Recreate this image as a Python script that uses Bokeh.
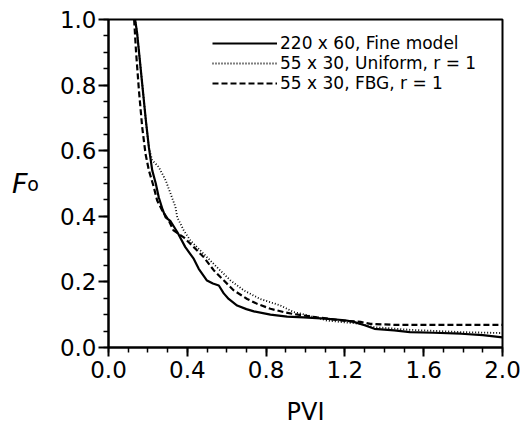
from bokeh.plotting import figure
from bokeh.models import Legend, LegendItem, FixedTicker, Range1d, LinearAxis
from bokeh.embed import file_html
from bokeh.resources import INLINE

# Fine model 220 x 60
fine_x = [0.135, 0.145, 0.16, 0.175, 0.19, 0.205, 0.222, 0.24, 0.255, 0.275, 0.29, 0.315, 0.349,
          0.39, 0.433, 0.458, 0.50, 0.53, 0.56, 0.585, 0.61, 0.653, 0.70, 0.738, 0.822, 0.907,
          0.99, 1.10, 1.20, 1.245, 1.30, 1.35, 1.45, 1.53, 1.65, 1.79, 1.90, 2.0]
fine_y = [1.0, 0.96, 0.87, 0.78, 0.69, 0.61, 0.54, 0.50, 0.458, 0.42, 0.397, 0.385, 0.352,
          0.306, 0.27, 0.24, 0.204, 0.195, 0.189, 0.165, 0.148, 0.128, 0.117, 0.11, 0.10, 0.094,
          0.092, 0.088, 0.083, 0.078, 0.068, 0.057, 0.052, 0.047, 0.045, 0.042, 0.038, 0.031]

# Coarse 55 x 30, uniform, r = 1
unif_x = [0.135, 0.145, 0.16, 0.175, 0.19, 0.205, 0.222, 0.24, 0.255, 0.29, 0.315, 0.34, 0.349,
          0.382, 0.416, 0.484, 0.55, 0.62, 0.687, 0.77, 0.873, 0.94, 1.0, 1.11, 1.28, 1.35,
          1.53, 1.79, 2.0]
unif_y = [1.0, 0.96, 0.87, 0.78, 0.69, 0.61, 0.57, 0.56, 0.55, 0.51, 0.469, 0.428, 0.397,
          0.357, 0.326, 0.285, 0.245, 0.204, 0.174, 0.148, 0.128, 0.108, 0.10, 0.082, 0.072, 0.062,
          0.054, 0.047, 0.044]

# Coarse 55 x 30, FBG, r = 1
fbg_x = [0.13, 0.14, 0.155, 0.171, 0.188, 0.205, 0.23, 0.247, 0.275, 0.306, 0.33, 0.382, 0.433,
         0.484, 0.535, 0.586, 0.636, 0.704, 0.755, 0.822, 0.89, 0.94, 1.06, 1.19, 1.28, 1.33,
         1.45, 2.0]
fbg_y = [1.0, 0.9, 0.78, 0.672, 0.59, 0.54, 0.489, 0.448, 0.415, 0.387, 0.357, 0.336, 0.306,
         0.275, 0.235, 0.204, 0.174, 0.148, 0.133, 0.118, 0.108, 0.102, 0.092, 0.082, 0.078, 0.072,
         0.069, 0.069]

legend_labels = ["220 x 60, Fine model", "55 x 30, Uniform, r = 1", "55 x 30, FBG, r = 1"]
x_ticks = [0.0, 0.4, 0.8, 1.2, 1.6, 2.0]
y_ticks = [0.0, 0.2, 0.4, 0.6, 0.8, 1.0]

FONT = "DejaVu Sans"

p = figure(width=523, height=424, output_backend="svg", toolbar_location=None,
           x_range=Range1d(0, 2.0), y_range=Range1d(0, 1.0),
           min_border_left=108, min_border_right=21, min_border_top=19, min_border_bottom=77)
p.frame_width = 394
p.frame_height = 328
p.grid.visible = False
p.outline_line_color = "black"
p.outline_line_width = 2
p.background_fill_color = "white"
p.border_fill_color = "white"

r1 = p.line(fine_x, fine_y, line_color="black", line_width=2.2)
r2 = p.line(unif_x, unif_y, line_color="black", line_width=1.8, line_dash="1 2")
r3 = p.line(fbg_x, fbg_y, line_color="black", line_width=2.2, line_dash="6 3")

# axes
p.xaxis.ticker = FixedTicker(ticks=x_ticks, minor_ticks=[i / 10 for i in range(0, 21)])
p.yaxis.ticker = FixedTicker(ticks=y_ticks, minor_ticks=[i / 20 for i in range(0, 21)])
p.xaxis.major_label_overrides = {t: f"{t:.1f}" for t in x_ticks}
p.yaxis.major_label_overrides = {t: f"{t:.1f}" for t in y_ticks}
for ax in (p.xaxis, p.yaxis):
    ax.axis_line_width = 2
    ax.axis_line_color = "black"
    ax.major_tick_line_width = 2
    ax.minor_tick_line_width = 1.5
    ax.major_tick_in = 0
    ax.minor_tick_in = 0
    ax.minor_tick_out = 5
    ax.major_label_text_font = FONT
    ax.major_label_text_font_size = "23px"
    ax.major_label_text_color = "black"
p.xaxis.major_tick_out = 9
p.yaxis.major_tick_out = 10
p.xaxis.major_label_standoff = 4
p.yaxis.major_label_standoff = 2

p.xaxis.axis_label = "PVI"
p.xaxis.axis_label_text_font = FONT
p.xaxis.axis_label_text_font_size = "24px"
p.xaxis.axis_label_text_font_style = "normal"
p.xaxis.axis_label_text_color = "black"
p.xaxis.axis_label_standoff = 17

# y label "F" + subscript "o", horizontal: "o" on the tick axis, "F" on an outer bare axis
p.yaxis.axis_label = "o"
p.yaxis.axis_label_orientation = "horizontal"
p.yaxis.axis_label_text_font = FONT
p.yaxis.axis_label_text_font_size = "19px"
p.yaxis.axis_label_text_font_style = "normal"
p.yaxis.axis_label_text_color = "black"
p.yaxis.axis_label_standoff = 18
p.yaxis.axis_label_text_baseline = "top"

f_axis = LinearAxis(axis_label="F", axis_label_orientation="horizontal",
                    axis_line_color=None, major_tick_line_color=None, minor_tick_line_color=None,
                    major_label_text_font_size="0px", axis_label_standoff=-3,
                    axis_label_text_font=FONT, axis_label_text_font_style="italic",
                    axis_label_text_font_size="27px", axis_label_text_color="black")
f_axis.ticker = FixedTicker(ticks=[])
p.add_layout(f_axis, "left")

# one single-row legend per series, stacked tightly as in the reference
legend_rows = [(r1, 294), (r2, 274), (r3, 254)]
for lab, (rend, vy) in zip(legend_labels, legend_rows):
    lg = Legend(items=[LegendItem(label=lab, renderers=[rend])],
                location=(104, vy), border_line_color=None, background_fill_alpha=0,
                glyph_width=65, glyph_height=14, label_height=14,
                label_standoff=3, padding=0, margin=0,
                label_text_font=FONT, label_text_font_size="17px", label_text_color="black")
    p.add_layout(lg)

open("out.html", "w").write(file_html(p, INLINE))
